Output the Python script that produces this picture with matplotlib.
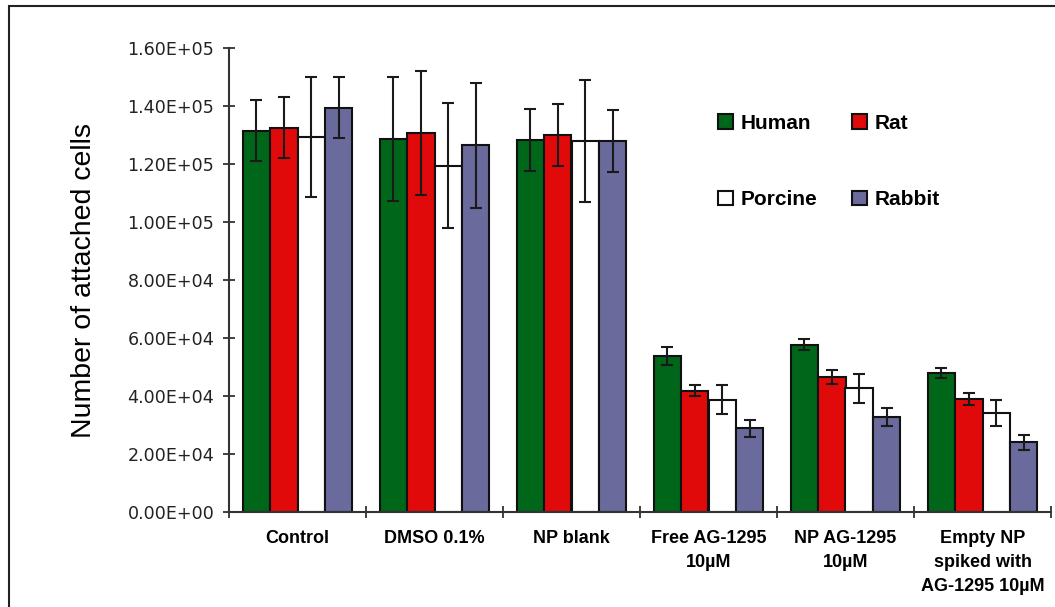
"""
Attached cell counts per treatment for four species, grouped bar chart.
"""

import matplotlib
# no display in the sandbox
matplotlib.use('Agg')
from matplotlib import pyplot as plt
from matplotlib.patches import Rectangle
from matplotlib.ticker import FuncFormatter, FixedLocator
import numpy as np

# treatment groups along the x axis
treatments = ["Control", "DMSO 0.1%", "NP blank", "Free AG-1295\n10\u00b5M",
              "NP AG-1295\n10\u00b5M",
              "Empty NP\nspiked with\nAG-1295 10\u00b5M"]

# mean attached cells and error (+/-) per species
human = [131500, 128600, 128300, 53800, 57700, 48000]
human_err = [10500, 21500, 10600, 3000, 2000, 1800]
rat = [132500, 130700, 130000, 41800, 46600, 39100]
rat_err = [10600, 21300, 10800, 1900, 2300, 2100]
porcine = [129200, 119400, 127900, 38700, 42700, 34200]
porcine_err = [20700, 21500, 21000, 5000, 5000, 4500]
rabbit = [139400, 126500, 127900, 28800, 32600, 24100]
rabbit_err = [10500, 21600, 10800, 2900, 3100, 2600]

species = ["Human", "Rat", "Porcine", "Rabbit"]
colours = ["#00661a", "#e00a0a", "#ffffff", "#6a6a9c"]

fig = plt.figure(figsize=(10.55, 6.07), dpi=100)
ax = fig.add_axes([229 / 1055, 95 / 607, 822 / 1055, 464 / 607])

x_values = np.arange(len(treatments))
bar_width = 0.2
series = [(human, human_err), (rat, rat_err),
          (porcine, porcine_err), (rabbit, rabbit_err)]
bars = []
for i, (values, errors) in enumerate(series):
    offset = (i - 1.5) * bar_width
    b = ax.bar(x_values + offset, values, bar_width, color=colours[i],
               edgecolor="#111111", linewidth=1.5, label=species[i],
               zorder=2)
    ax.errorbar(x_values + offset, values, yerr=errors, fmt='none',
                ecolor="#1a1a1a", elinewidth=1.5, capsize=4.5,
                capthick=1.5, zorder=3)
    bars.append(b)

# axes layout
ax.set_xlim(-0.5, len(treatments) - 0.5)
ax.set_ylim(0, 160000)
ax.set_yticks(np.arange(0, 160001, 20000))
ax.yaxis.set_major_formatter(FuncFormatter(lambda v, pos: "%.2E" % v))
ax.xaxis.set_major_locator(FixedLocator(np.arange(-0.5, len(treatments), 1)))
ax.xaxis.set_major_formatter(FuncFormatter(lambda v, pos: ""))
ax.xaxis.set_minor_locator(FixedLocator(x_values))
ax.set_xticklabels(treatments, minor=True, fontsize=13,
                   fontweight='bold', family='Liberation Sans',
                   linespacing=1.55, va='top')
ax.tick_params(axis='x', which='minor', length=0, pad=13)
ax.tick_params(axis='both', which='major', direction='inout', length=8,
               width=1.3, color="#333333")
ax.tick_params(axis='y', labelsize=12.6, pad=6.5, labelcolor="#222222")
for label in ax.get_yticklabels():
    label.set_family('DejaVu Sans')

for side in ('top', 'right'):
    ax.spines[side].set_visible(False)
for side in ('left', 'bottom'):
    ax.spines[side].set_linewidth(1.5)
    ax.spines[side].set_color("#333333")

ax.set_ylabel("Number of attached cells", fontsize=20.5,
              family='Liberation Sans', labelpad=22)

# legend in two columns: Human/Porcine, Rat/Rabbit
order = [0, 2, 1, 3]
ax.legend([bars[i] for i in order], [species[i] for i in order], ncol=2,
          loc='upper left', bbox_to_anchor=(718 / 1055, 1 - 114 / 607),
          bbox_transform=fig.transFigure, frameon=False,
          prop={'family': 'Liberation Sans', 'weight': 'bold', 'size': 15},
          handlelength=0.72, handleheight=0.72, handletextpad=0.35,
          labelspacing=2.75, columnspacing=1.7, borderpad=0,
          borderaxespad=0)

# frame around the whole picture, cut by the right and bottom edges
fig.patches.append(Rectangle((9 / 1055, -0.1), 1.2, 1.1 - 6 / 607,
                             transform=fig.transFigure, fill=False,
                             edgecolor="#222222", linewidth=1.5))

plt.savefig("out.png", dpi=100)
